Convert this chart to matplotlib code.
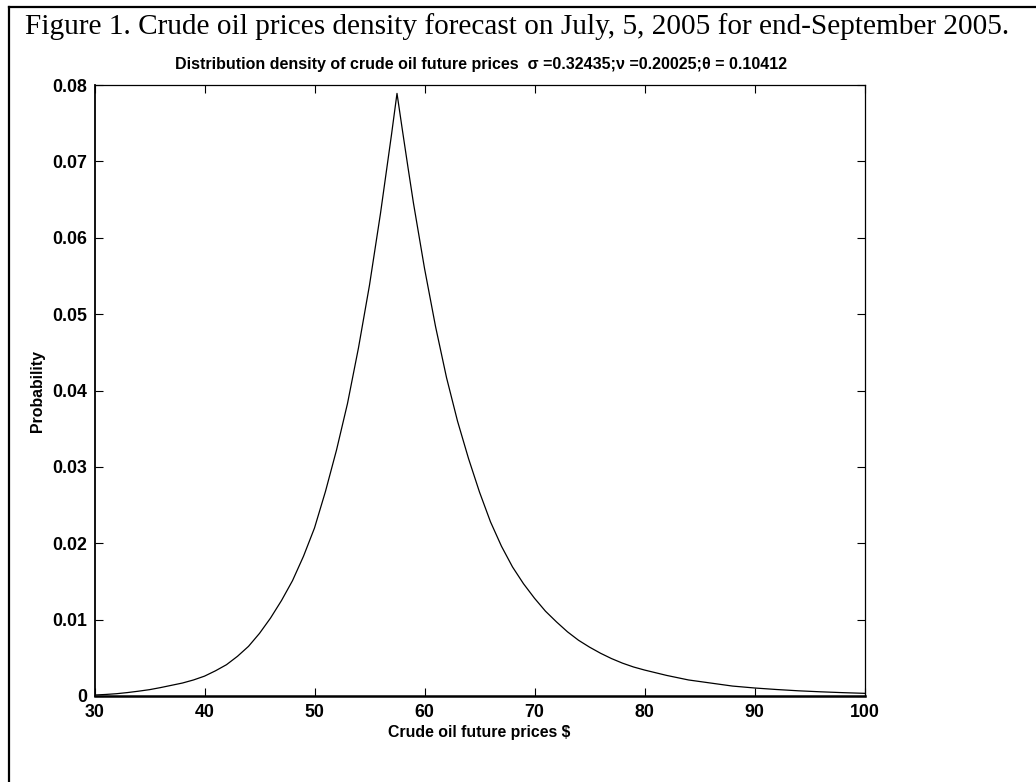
import matplotlib
matplotlib.use("Agg")
import matplotlib.pyplot as plt
from matplotlib.lines import Line2D

# values
prices = [30, 31, 32, 33, 34, 35, 36, 37, 38, 39, 40, 41, 42, 43, 44, 45, 46, 47, 48, 49,
          50, 51, 52, 53, 54, 55, 56, 57, 57.5,
          58, 58.5, 59, 60, 61, 62, 63, 64, 65, 66, 67, 68, 69, 70, 71, 72, 73, 74, 75,
          76, 77, 78, 79, 80, 82, 84, 86, 88, 90, 92, 94, 96, 98, 100]
density = [0.00013, 0.0002, 0.0003, 0.00045, 0.00063, 0.00083, 0.0011, 0.0014, 0.0017,
           0.0021, 0.0026, 0.0033, 0.0041, 0.0052, 0.0065, 0.0082, 0.0102, 0.0125, 0.0151,
           0.0183, 0.0220, 0.0268, 0.0322, 0.0383, 0.0456, 0.0538, 0.0632, 0.0735, 0.0789,
           0.0740, 0.0692, 0.0645, 0.0560, 0.0484, 0.0417, 0.0360, 0.0311, 0.0267, 0.0228,
           0.0196, 0.0169, 0.0147, 0.0128, 0.0111, 0.0097, 0.0084, 0.0073, 0.0064,
           0.0056, 0.0049, 0.0043, 0.0038, 0.0034, 0.0027, 0.0021, 0.0017, 0.0013,
           0.00105, 0.00085, 0.00068, 0.00055, 0.00044, 0.00035]

x_ticks = [30, 40, 50, 60, 70, 80, 90, 100]
y_ticks = [0, 0.01, 0.02, 0.03, 0.04, 0.05, 0.06, 0.07, 0.08]
y_tick_labels = ["0", "0.01", "0.02", "0.03", "0.04", "0.05", "0.06", "0.07", "0.08"]

FIG_TITLE = "Figure 1. Crude oil prices density forecast on July, 5, 2005 for end-September 2005."
PLOT_TITLE = "Distribution density of crude oil future prices  \u03c3 =0.32435;\u03bd =0.20025;\u03b8 = 0.10412"

W, H = 1036, 782

plt.rcParams["font.family"] = ["Liberation Sans", "DejaVu Sans"]
plt.rcParams["font.weight"] = "bold"

fig = plt.figure(figsize=(W / 100, H / 100), dpi=100)
ax = fig.add_axes([94.5 / W, 1 - 696 / H, 770 / W, 611 / H])

ax.plot(prices, density, color="black", linewidth=0.9)

ax.set_xlim(30, 100)
ax.set_ylim(0, 0.08)
ax.set_xticks(x_ticks)
ax.set_yticks(y_ticks)
ax.set_yticklabels(y_tick_labels)
ax.tick_params(direction="in", top=True, right=True, length=5.5, width=0.8,
               labelsize=12.8, pad=6)
ax.tick_params(axis="y", pad=5)
for side in ["top", "right"]:
    ax.spines[side].set_linewidth(0.9)
ax.spines["left"].set_linewidth(1.3)
ax.spines["bottom"].set_linewidth(1.8)

ax.set_xlabel("Crude oil future prices $", fontsize=11.4, fontweight="bold")
ax.set_ylabel("Probability", fontsize=11.4, fontweight="bold")
ax.xaxis.set_label_coords(0.5, (696 - 733) / 611)
ax.xaxis.label.set_va("center")
ax.yaxis.set_label_coords((38 - 94.5) / 770, 0.5)
ax.yaxis.label.set_va("center")

fig.text(481 / W, 1 - 65 / H, PLOT_TITLE, ha="center", va="center",
         fontsize=11.5, fontweight="bold")
fig.text(25 / W, 1 - 27 / H, FIG_TITLE, ha="left", va="center",
         fontsize=21.1, fontweight="normal", family=["Liberation Serif", "DejaVu Serif"])

# frame around the figure, only top and left edges show
fig.add_artist(Line2D([9 / W, 1], [1 - 7 / H, 1 - 7 / H], color="black", linewidth=1.6,
                      transform=fig.transFigure))
fig.add_artist(Line2D([9 / W, 9 / W], [0, 1 - 7 / H], color="black", linewidth=1.6,
                      transform=fig.transFigure))

fig.savefig("out.png", dpi=100)
